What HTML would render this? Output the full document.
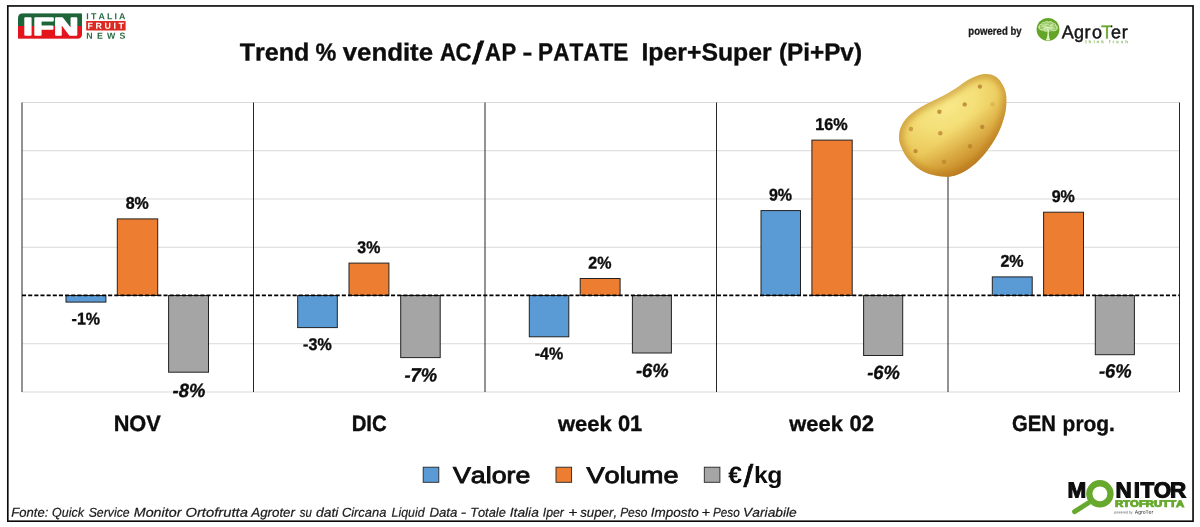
<!DOCTYPE html>
<html lang="it"><head><meta charset="utf-8"><title>Trend % vendite AC/AP - PATATE</title>
<style>html,body{margin:0;padding:0;background:#fff}svg{display:block;will-change:transform}</style></head>
<body>
<svg width="1200" height="527" viewBox="0 0 1200 527" font-family='"Liberation Sans", sans-serif' style="font-kerning:none">
<defs>
<radialGradient id="pg" gradientUnits="userSpaceOnUse" cx="0" cy="0" r="70" fx="0" fy="-6" gradientTransform="translate(950 110) rotate(-32) scale(1.45 0.85)"><stop offset="0" stop-color="#f8e98a"/><stop offset="0.3" stop-color="#f4df78"/><stop offset="0.6" stop-color="#ebc95c"/><stop offset="0.85" stop-color="#dfb043"/><stop offset="1" stop-color="#d39c36"/></radialGradient>
<linearGradient id="pg2" gradientUnits="userSpaceOnUse" x1="925" y1="85" x2="990" y2="170"><stop offset="0" stop-color="#b8741c" stop-opacity="0"/><stop offset="0.5" stop-color="#b8741c" stop-opacity="0"/><stop offset="1" stop-color="#b56c16" stop-opacity="0.68"/></linearGradient>
<filter id="bl" x="-50%" y="-50%" width="200%" height="200%"><feGaussianBlur stdDeviation="0.75"/></filter>
<filter id="bl4" x="-20%" y="-20%" width="140%" height="140%"><feGaussianBlur stdDeviation="3.2"/></filter>
</defs>
<rect width="1200" height="527" fill="#fff"/>
<rect x="7.8" y="5.95" width="1185.25" height="515.25" fill="none" stroke="#0a0a0a" stroke-width="1.65"/>
<line x1="22.0" x2="1179.5" y1="102.50" y2="102.50" stroke="#d9d9d9" stroke-width="1"/>
<line x1="22.0" x2="1179.5" y1="150.75" y2="150.75" stroke="#d9d9d9" stroke-width="1"/>
<line x1="22.0" x2="1179.5" y1="199.00" y2="199.00" stroke="#d9d9d9" stroke-width="1"/>
<line x1="22.0" x2="1179.5" y1="247.25" y2="247.25" stroke="#d9d9d9" stroke-width="1"/>
<line x1="22.0" x2="1179.5" y1="343.75" y2="343.75" stroke="#d9d9d9" stroke-width="1"/>
<line x1="22.0" x2="1179.5" y1="392.00" y2="392.00" stroke="#d9d9d9" stroke-width="1"/>
<line x1="22.0" x2="22.0" y1="102.50" y2="392.00" stroke="#262626" stroke-width="1"/>
<line x1="253.5" x2="253.5" y1="102.50" y2="392.00" stroke="#262626" stroke-width="1"/>
<line x1="485.0" x2="485.0" y1="102.50" y2="392.00" stroke="#262626" stroke-width="1"/>
<line x1="716.5" x2="716.5" y1="102.50" y2="392.00" stroke="#262626" stroke-width="1"/>
<line x1="948.0" x2="948.0" y1="102.50" y2="392.00" stroke="#262626" stroke-width="1"/>
<line x1="1179.5" x2="1179.5" y1="102.50" y2="392.00" stroke="#262626" stroke-width="1"/>
<rect x="66.00" y="295.50" width="39.90" height="6.60" fill="#5b9bd5" stroke="#222" stroke-width="1"/>
<rect x="117.30" y="218.90" width="40.40" height="76.60" fill="#ed7d31" stroke="#222" stroke-width="1"/>
<rect x="168.60" y="295.50" width="39.90" height="76.70" fill="#a5a5a5" stroke="#222" stroke-width="1"/>
<rect x="297.70" y="295.50" width="39.60" height="32.10" fill="#5b9bd5" stroke="#222" stroke-width="1"/>
<rect x="349.00" y="263.10" width="39.90" height="32.40" fill="#ed7d31" stroke="#222" stroke-width="1"/>
<rect x="400.70" y="295.50" width="39.50" height="62.10" fill="#a5a5a5" stroke="#222" stroke-width="1"/>
<rect x="529.30" y="295.50" width="39.50" height="41.30" fill="#5b9bd5" stroke="#222" stroke-width="1"/>
<rect x="580.20" y="278.50" width="39.90" height="17.00" fill="#ed7d31" stroke="#222" stroke-width="1"/>
<rect x="632.40" y="295.50" width="39.00" height="57.50" fill="#a5a5a5" stroke="#222" stroke-width="1"/>
<rect x="761.00" y="210.60" width="39.50" height="84.90" fill="#5b9bd5" stroke="#222" stroke-width="1"/>
<rect x="811.90" y="140.10" width="40.30" height="155.40" fill="#ed7d31" stroke="#222" stroke-width="1"/>
<rect x="863.60" y="295.50" width="39.10" height="60.00" fill="#a5a5a5" stroke="#222" stroke-width="1"/>
<rect x="992.30" y="276.90" width="39.90" height="18.60" fill="#5b9bd5" stroke="#222" stroke-width="1"/>
<rect x="1043.60" y="212.20" width="39.90" height="83.30" fill="#ed7d31" stroke="#222" stroke-width="1"/>
<rect x="1095.30" y="295.50" width="39.10" height="59.20" fill="#a5a5a5" stroke="#222" stroke-width="1"/>
<line x1="22.0" x2="1179.5" y1="295.45" y2="295.45" stroke="#000" stroke-width="1.7" stroke-dasharray="4.1 2.05"/>
<g id="chart-title">
<text transform="matrix(1.0190 0.0006 0 1 239.72 60.38)" font-size="24.6" font-weight="bold" font-style="normal" fill="#0d0d0d" stroke="#0d0d0d" stroke-width="0.35">Trend</text>
<text transform="matrix(0.9509 0.0006 0 1 315.42 60.39)" font-size="24.6" font-weight="bold" font-style="normal" fill="#0d0d0d" stroke="#0d0d0d" stroke-width="0.35">%</text>
<text transform="matrix(1.0495 0.0006 0 1 342.70 60.37)" font-size="24.6" font-weight="bold" font-style="normal" fill="#0d0d0d" stroke="#0d0d0d" stroke-width="0.35">vendite</text>
<text transform="matrix(0.9000 0.0006 0 1.0000 439.97 60.38)" x="0.00 17.20 38.78 50.06 68.48" font-size="24.6" font-weight="bold" font-style="normal" fill="#0d0d0d" stroke="#0d0d0d" stroke-width="0.35">AC/AP</text>
<text transform="matrix(1.2008 0.0006 0 1 522.55 60.40)" font-size="24.6" font-weight="bold" font-style="normal" fill="#0d0d0d" stroke="#0d0d0d" stroke-width="0.35">-</text>
<text transform="matrix(0.9186 0.0006 0 1 538.09 60.37)" font-size="24.6" font-weight="bold" font-style="normal" fill="#0d0d0d" stroke="#0d0d0d" stroke-width="0.35">PATATE</text>
<text transform="matrix(1.0088 0.0006 0 1 641.44 60.36)" font-size="24.6" font-weight="bold" font-style="normal" fill="#0d0d0d" stroke="#0d0d0d" stroke-width="0.35">Iper+Super</text>
<text transform="matrix(0.9886 0.0006 0 1 778.89 60.38)" font-size="24.6" font-weight="bold" font-style="normal" fill="#0d0d0d" stroke="#0d0d0d" stroke-width="0.35">(Pi+Pv)</text>
<text transform="matrix(2.0696 0.0006 0 1.6136 472.20 63.68)" font-size="20" font-weight="normal" font-style="normal" fill="#0d0d0d" stroke="#0d0d0d" stroke-width="0.9" vector-effect="non-scaling-stroke">/</text>
</g>
<text transform="matrix(0.9444 0.0006 0 1 71.57 324.49)" font-size="17.0" font-weight="bold" font-style="normal" fill="#0d0d0d" stroke="#0d0d0d" stroke-width="0.35">-1%</text>
<text transform="matrix(0.9414 0.0006 0 1 125.69 208.79)" font-size="17.0" font-weight="bold" font-style="normal" fill="#0d0d0d" stroke="#0d0d0d" stroke-width="0.35">8%</text>
<text transform="matrix(0.9582 0.0006 0 1 172.60 397.09)" font-size="19.2" font-weight="bold" font-style="italic" fill="#0d0d0d" stroke="#0d0d0d" stroke-width="0.35">-8%</text>
<text transform="matrix(0.9444 0.0006 0 1 303.12 349.99)" font-size="17.0" font-weight="bold" font-style="normal" fill="#0d0d0d" stroke="#0d0d0d" stroke-width="0.35">-3%</text>
<text transform="matrix(0.9354 0.0006 0 1 357.29 252.99)" font-size="17.0" font-weight="bold" font-style="normal" fill="#0d0d0d" stroke="#0d0d0d" stroke-width="0.35">3%</text>
<text transform="matrix(0.9582 0.0006 0 1 404.50 381.39)" font-size="19.2" font-weight="bold" font-style="italic" fill="#0d0d0d" stroke="#0d0d0d" stroke-width="0.35">-7%</text>
<text transform="matrix(0.9444 0.0006 0 1 534.67 359.19)" font-size="17.0" font-weight="bold" font-style="normal" fill="#0d0d0d" stroke="#0d0d0d" stroke-width="0.35">-4%</text>
<text transform="matrix(0.9434 0.0006 0 1 588.29 268.39)" font-size="17.0" font-weight="bold" font-style="normal" fill="#0d0d0d" stroke="#0d0d0d" stroke-width="0.35">2%</text>
<text transform="matrix(0.9582 0.0006 0 1 635.95 376.89)" font-size="19.2" font-weight="bold" font-style="italic" fill="#0d0d0d" stroke="#0d0d0d" stroke-width="0.35">-6%</text>
<text transform="matrix(0.9434 0.0006 0 1 768.89 200.49)" font-size="17.0" font-weight="bold" font-style="normal" fill="#0d0d0d" stroke="#0d0d0d" stroke-width="0.35">9%</text>
<text transform="matrix(0.9537 0.0006 0 1 815.33 129.99)" font-size="17.0" font-weight="bold" font-style="normal" fill="#0d0d0d" stroke="#0d0d0d" stroke-width="0.35">16%</text>
<text transform="matrix(0.9582 0.0006 0 1 867.20 379.09)" font-size="19.2" font-weight="bold" font-style="italic" fill="#0d0d0d" stroke="#0d0d0d" stroke-width="0.35">-6%</text>
<text transform="matrix(0.9434 0.0006 0 1 1000.39 266.79)" font-size="17.0" font-weight="bold" font-style="normal" fill="#0d0d0d" stroke="#0d0d0d" stroke-width="0.35">2%</text>
<text transform="matrix(0.9434 0.0006 0 1 1051.69 202.09)" font-size="17.0" font-weight="bold" font-style="normal" fill="#0d0d0d" stroke="#0d0d0d" stroke-width="0.35">9%</text>
<text transform="matrix(0.9582 0.0006 0 1 1098.90 377.59)" font-size="19.2" font-weight="bold" font-style="italic" fill="#0d0d0d" stroke="#0d0d0d" stroke-width="0.35">-6%</text>
<text transform="matrix(0.9813 0.0006 0 1 113.64 430.89)" font-size="22.2" font-weight="bold" font-style="normal" fill="#0d0d0d" stroke="#0d0d0d" stroke-width="0.35">NOV</text>
<text transform="matrix(0.9186 0.0006 0 1 351.64 430.89)" font-size="22.2" font-weight="bold" font-style="normal" fill="#0d0d0d" stroke="#0d0d0d" stroke-width="0.35">DIC</text>
<text transform="matrix(1.0309 0.0006 0 1 557.96 430.88)" font-size="21.3" font-weight="bold" font-style="normal" fill="#0d0d0d" stroke="#0d0d0d" stroke-width="0.35">week</text>
<text transform="matrix(0.9872 0.0006 0 1 617.93 430.89)" font-size="22.2" font-weight="bold" font-style="normal" fill="#0d0d0d" stroke="#0d0d0d" stroke-width="0.35">01</text>
<text transform="matrix(1.0270 0.0006 0 1 789.36 430.88)" font-size="21.3" font-weight="bold" font-style="normal" fill="#0d0d0d" stroke="#0d0d0d" stroke-width="0.35">week</text>
<text transform="matrix(0.9945 0.0006 0 1 849.53 430.89)" font-size="22.2" font-weight="bold" font-style="normal" fill="#0d0d0d" stroke="#0d0d0d" stroke-width="0.35">02</text>
<text transform="matrix(0.9125 0.0006 0 1 1011.97 430.89)" font-size="22.2" font-weight="bold" font-style="normal" fill="#0d0d0d" stroke="#0d0d0d" stroke-width="0.35">GEN</text>
<text transform="matrix(0.9827 0.0006 0 1 1062.62 430.88)" font-size="21.3" font-weight="bold" font-style="normal" fill="#0d0d0d" stroke="#0d0d0d" stroke-width="0.35">prog.</text>
<rect x="423.2" y="467.2" width="15.6" height="15.1" fill="#5b9bd5" stroke="#262626" stroke-width="0.9"/>
<rect x="556.0" y="467.2" width="15.6" height="15.1" fill="#ed7d31" stroke="#262626" stroke-width="0.9"/>
<rect x="704.3" y="467.2" width="15.6" height="15.1" fill="#a5a5a5" stroke="#262626" stroke-width="0.9"/>
<text transform="matrix(1.1730 0.0006 0 1 453.03 482.98)" font-size="22.8" font-weight="normal" font-style="normal" fill="#0d0d0d" stroke="#111" stroke-width="0.9">Valore</text>
<text transform="matrix(1.1930 0.0006 0 1 586.43 482.98)" font-size="22.8" font-weight="normal" font-style="normal" fill="#0d0d0d" stroke="#111" stroke-width="0.9">Volume</text>
<text transform="matrix(1.0500 0.0006 0 1.0000 728.37 482.99)" x="0.00 15.75 24.44 37.08" font-size="23.6" font-weight="bold" font-style="normal" fill="#0d0d0d" >€/kg</text>
<text transform="matrix(1.7457 0.0006 0 1.5932 743.50 486.79)" font-size="20" font-weight="normal" font-style="normal" fill="#0d0d0d" stroke="#0d0d0d" stroke-width="0.7" vector-effect="non-scaling-stroke">/</text>
<text transform="matrix(1.0124 0.0006 0 1 11.30 516.69)" font-size="12.9" font-weight="normal" font-style="italic" fill="#1a1a1a" stroke="#1a1a1a" stroke-width="0.22">Fonte:</text>
<text transform="matrix(0.9702 0.0006 0 1 52.08 516.69)" font-size="12.9" font-weight="normal" font-style="italic" fill="#1a1a1a" stroke="#1a1a1a" stroke-width="0.22">Quick</text>
<text transform="matrix(0.9533 0.0006 0 1 88.65 516.69)" font-size="12.9" font-weight="normal" font-style="italic" fill="#1a1a1a" stroke="#1a1a1a" stroke-width="0.22">Service</text>
<text transform="matrix(1.1079 0.0006 0 1 133.76 516.69)" font-size="12.9" font-weight="normal" font-style="italic" fill="#1a1a1a" stroke="#1a1a1a" stroke-width="0.22">Monitor</text>
<text transform="matrix(1.1473 0.0006 0 1 185.40 516.68)" font-size="12.9" font-weight="normal" font-style="italic" fill="#1a1a1a" stroke="#1a1a1a" stroke-width="0.22">Ortofrutta</text>
<text transform="matrix(1.0329 0.0006 0 1 251.26 516.69)" font-size="12.9" font-weight="normal" font-style="italic" fill="#1a1a1a" stroke="#1a1a1a" stroke-width="0.22">Agroter</text>
<text transform="matrix(0.8849 0.0006 0 1 299.77 516.70)" font-size="12.9" font-weight="normal" font-style="italic" fill="#1a1a1a" stroke="#1a1a1a" stroke-width="0.22">su</text>
<text transform="matrix(1.0797 0.0006 0 1 315.93 516.69)" font-size="12.9" font-weight="normal" font-style="italic" fill="#1a1a1a" stroke="#1a1a1a" stroke-width="0.22">dati</text>
<text transform="matrix(1.0000 0.0006 0 1 341.89 516.69)" font-size="12.9" font-weight="normal" font-style="italic" fill="#1a1a1a" stroke="#1a1a1a" stroke-width="0.22">Circana</text>
<text transform="matrix(0.9601 0.0006 0 1 391.52 516.69)" font-size="12.9" font-weight="normal" font-style="italic" fill="#1a1a1a" stroke="#1a1a1a" stroke-width="0.22">Liquid</text>
<text transform="matrix(1.0261 0.0006 0 1 429.39 516.69)" font-size="12.9" font-weight="normal" font-style="italic" fill="#1a1a1a" stroke="#1a1a1a" stroke-width="0.22">Data</text>
<text transform="matrix(1.2557 0.0006 0 1 460.77 516.70)" font-size="12.9" font-weight="normal" font-style="italic" fill="#1a1a1a" stroke="#1a1a1a" stroke-width="0.22">-</text>
<text transform="matrix(0.9966 0.0006 0 1 470.14 516.69)" font-size="12.9" font-weight="normal" font-style="italic" fill="#1a1a1a" stroke="#1a1a1a" stroke-width="0.22">Totale</text>
<text transform="matrix(1.0685 0.0006 0 1 509.75 516.69)" font-size="12.9" font-weight="normal" font-style="italic" fill="#1a1a1a" stroke="#1a1a1a" stroke-width="0.22">Italia</text>
<text transform="matrix(0.9525 0.0006 0 1 542.81 516.69)" font-size="12.9" font-weight="normal" font-style="italic" fill="#1a1a1a" stroke="#1a1a1a" stroke-width="0.22">Iper</text>
<text transform="matrix(1.2126 0.0006 0 1 568.31 516.70)" font-size="12.9" font-weight="normal" font-style="italic" fill="#1a1a1a" stroke="#1a1a1a" stroke-width="0.22">+</text>
<text transform="matrix(1.0314 0.0006 0 1 580.17 516.69)" font-size="12.9" font-weight="normal" font-style="italic" fill="#1a1a1a" stroke="#1a1a1a" stroke-width="0.22">super,</text>
<text transform="matrix(0.9267 0.0006 0 1 620.13 516.69)" font-size="12.9" font-weight="normal" font-style="italic" fill="#1a1a1a" stroke="#1a1a1a" stroke-width="0.22">Peso</text>
<text transform="matrix(1.0474 0.0006 0 1 650.87 516.69)" font-size="12.9" font-weight="normal" font-style="italic" fill="#1a1a1a" stroke="#1a1a1a" stroke-width="0.22">Imposto</text>
<text transform="matrix(1.1329 0.0006 0 1 701.57 516.70)" font-size="12.9" font-weight="normal" font-style="italic" fill="#1a1a1a" stroke="#1a1a1a" stroke-width="0.22">+</text>
<text transform="matrix(0.9092 0.0006 0 1 713.04 516.69)" font-size="12.9" font-weight="normal" font-style="italic" fill="#1a1a1a" stroke="#1a1a1a" stroke-width="0.22">Peso</text>
<text transform="matrix(1.0699 0.0006 0 1 743.11 516.69)" font-size="12.9" font-weight="normal" font-style="italic" fill="#1a1a1a" stroke="#1a1a1a" stroke-width="0.22">Variabile</text>
<clipPath id="pc"><path d="M984.5,74.1 C989.0,73.8 993.6,74.9 997.0,77.5 C1000.4,80.2 1003.4,85.7 1005.0,90.0 C1006.5,94.4 1006.5,99.0 1006.3,103.7 C1006.2,108.5 1005.4,113.2 1003.8,118.5 C1002.3,123.8 1000.0,129.9 997.0,135.6 C994.0,141.3 989.8,147.5 985.6,152.7 C981.5,157.8 976.7,162.6 972.0,166.3 C967.2,170.0 962.1,173.0 957.2,174.7 C952.2,176.5 947.9,177.0 942.4,176.6 C936.9,176.1 929.7,174.7 924.2,172.0 C918.7,169.4 913.3,165.0 909.4,160.6 C905.4,156.3 902.4,150.2 900.7,145.8 C899.0,141.5 898.8,138.1 899.1,134.4 C899.4,130.8 900.5,127.2 902.5,123.7 C904.5,120.3 907.3,117.0 910.9,114.0 C914.6,110.9 919.3,108.1 924.2,105.3 C929.0,102.5 934.8,100.2 940.1,97.3 C945.4,94.5 951.1,91.3 956.0,88.2 C961.0,85.2 964.9,81.5 969.7,79.1 C974.4,76.8 979.9,74.4 984.5,74.1Z"/></clipPath>
<path d="M984.5,74.1 C989.0,73.8 993.6,74.9 997.0,77.5 C1000.4,80.2 1003.4,85.7 1005.0,90.0 C1006.5,94.4 1006.5,99.0 1006.3,103.7 C1006.2,108.5 1005.4,113.2 1003.8,118.5 C1002.3,123.8 1000.0,129.9 997.0,135.6 C994.0,141.3 989.8,147.5 985.6,152.7 C981.5,157.8 976.7,162.6 972.0,166.3 C967.2,170.0 962.1,173.0 957.2,174.7 C952.2,176.5 947.9,177.0 942.4,176.6 C936.9,176.1 929.7,174.7 924.2,172.0 C918.7,169.4 913.3,165.0 909.4,160.6 C905.4,156.3 902.4,150.2 900.7,145.8 C899.0,141.5 898.8,138.1 899.1,134.4 C899.4,130.8 900.5,127.2 902.5,123.7 C904.5,120.3 907.3,117.0 910.9,114.0 C914.6,110.9 919.3,108.1 924.2,105.3 C929.0,102.5 934.8,100.2 940.1,97.3 C945.4,94.5 951.1,91.3 956.0,88.2 C961.0,85.2 964.9,81.5 969.7,79.1 C974.4,76.8 979.9,74.4 984.5,74.1Z" fill="url(#pg)"/>
<path d="M984.5,74.1 C989.0,73.8 993.6,74.9 997.0,77.5 C1000.4,80.2 1003.4,85.7 1005.0,90.0 C1006.5,94.4 1006.5,99.0 1006.3,103.7 C1006.2,108.5 1005.4,113.2 1003.8,118.5 C1002.3,123.8 1000.0,129.9 997.0,135.6 C994.0,141.3 989.8,147.5 985.6,152.7 C981.5,157.8 976.7,162.6 972.0,166.3 C967.2,170.0 962.1,173.0 957.2,174.7 C952.2,176.5 947.9,177.0 942.4,176.6 C936.9,176.1 929.7,174.7 924.2,172.0 C918.7,169.4 913.3,165.0 909.4,160.6 C905.4,156.3 902.4,150.2 900.7,145.8 C899.0,141.5 898.8,138.1 899.1,134.4 C899.4,130.8 900.5,127.2 902.5,123.7 C904.5,120.3 907.3,117.0 910.9,114.0 C914.6,110.9 919.3,108.1 924.2,105.3 C929.0,102.5 934.8,100.2 940.1,97.3 C945.4,94.5 951.1,91.3 956.0,88.2 C961.0,85.2 964.9,81.5 969.7,79.1 C974.4,76.8 979.9,74.4 984.5,74.1Z" fill="url(#pg2)"/>
<g clip-path="url(#pc)"><path d="M984.5,74.1 C989.0,73.8 993.6,74.9 997.0,77.5 C1000.4,80.2 1003.4,85.7 1005.0,90.0 C1006.5,94.4 1006.5,99.0 1006.3,103.7 C1006.2,108.5 1005.4,113.2 1003.8,118.5 C1002.3,123.8 1000.0,129.9 997.0,135.6 C994.0,141.3 989.8,147.5 985.6,152.7 C981.5,157.8 976.7,162.6 972.0,166.3 C967.2,170.0 962.1,173.0 957.2,174.7 C952.2,176.5 947.9,177.0 942.4,176.6 C936.9,176.1 929.7,174.7 924.2,172.0 C918.7,169.4 913.3,165.0 909.4,160.6 C905.4,156.3 902.4,150.2 900.7,145.8 C899.0,141.5 898.8,138.1 899.1,134.4 C899.4,130.8 900.5,127.2 902.5,123.7 C904.5,120.3 907.3,117.0 910.9,114.0 C914.6,110.9 919.3,108.1 924.2,105.3 C929.0,102.5 934.8,100.2 940.1,97.3 C945.4,94.5 951.1,91.3 956.0,88.2 C961.0,85.2 964.9,81.5 969.7,79.1 C974.4,76.8 979.9,74.4 984.5,74.1Z" fill="none" stroke="#b26f1a" stroke-width="8" stroke-opacity="0.5" filter="url(#bl4)"/></g>
<circle cx="979.9" cy="86.6" r="2.2" fill="#b27a2a" fill-opacity="0.75" filter="url(#bl)"/>
<circle cx="964.7" cy="104.4" r="2.2" fill="#b27a2a" fill-opacity="0.75" filter="url(#bl)"/>
<circle cx="992.5" cy="104.2" r="2.2" fill="#b27a2a" fill-opacity="0.26" filter="url(#bl)"/>
<circle cx="939.4" cy="111.7" r="2.2" fill="#b27a2a" fill-opacity="0.75" filter="url(#bl)"/>
<circle cx="982.2" cy="126.9" r="2.2" fill="#b27a2a" fill-opacity="0.75" filter="url(#bl)"/>
<circle cx="910.9" cy="129.0" r="2.2" fill="#b27a2a" fill-opacity="0.60" filter="url(#bl)"/>
<circle cx="940.3" cy="133.3" r="2.2" fill="#b27a2a" fill-opacity="0.68" filter="url(#bl)"/>
<circle cx="970.1" cy="146.3" r="2.2" fill="#b27a2a" fill-opacity="0.68" filter="url(#bl)"/>
<circle cx="915.5" cy="151.1" r="2.2" fill="#b27a2a" fill-opacity="0.75" filter="url(#bl)"/>
<circle cx="944.0" cy="161.8" r="2.2" fill="#b27a2a" fill-opacity="0.60" filter="url(#bl)"/>
<clipPath id="ifnc"><path d="M23,13.3 H81.2 Q82.1,13.3 82.1,14.2 V33.8 Q82.1,38.8 77.1,38.8 H18.9 Q18,38.8 18,37.9 V18.3 Q18,13.3 23,13.3Z"/></clipPath>
<g clip-path="url(#ifnc)"><rect x="17.9" y="13.2" width="64.3" height="12.8" fill="#1d6538"/><rect x="17.9" y="26.0" width="64.3" height="12.9" fill="#e4141c"/></g>
<text transform="matrix(1.6869 0.0006 0 1.1919 23.21 34.79)" x="-0.00 6.01 18.28" font-size="20" font-weight="bold" font-style="normal" fill="#fff" stroke="#fff" stroke-width="2.0" vector-effect="non-scaling-stroke" stroke-linejoin="round">IFN</text>
<text transform="matrix(1 0.0006 0 1 86.31 19.29)" font-size="8.8" font-weight="bold" font-style="normal" fill="#2a6b45" letter-spacing="2.134" >ITALIA</text>
<rect x="86.2" y="21.0" width="39.4" height="9.5" fill="#dc2a22"/>
<text transform="matrix(1 0.0006 0 1 87.61 28.79)" font-size="8.8" font-weight="bold" font-style="normal" fill="#fff" letter-spacing="2.594" >FRUIT</text>
<text transform="matrix(1 0.0006 0 1 86.31 38.69)" font-size="8.8" font-weight="bold" font-style="normal" fill="#2a6b45" letter-spacing="4.244" >NEWS</text>
<text transform="matrix(0.8486 0.0006 0 1 968.37 34.78)" font-size="11.3" font-weight="bold" font-style="normal" fill="#1a1a1a" stroke="#1a1a1a" stroke-width="0.3">powered by</text>
<circle cx="1048.0" cy="29.4" r="11.4" fill="#64a528"/>
<g fill="#d9f2b6" fill-opacity="0.42"><ellipse cx="1042.9" cy="27.2" rx="4.6" ry="3.4"/><ellipse cx="1047.8" cy="24.8" rx="5.8" ry="3.5"/><ellipse cx="1053.5" cy="27.4" rx="4.4" ry="3.5"/><ellipse cx="1048.0" cy="29.3" rx="5.0" ry="2.7"/></g>
<g fill="none" stroke="#e2f6c8" stroke-width="0.85" stroke-linecap="round" stroke-linejoin="round"><path d="M1039.2,27.6 C1038.6,25.6 1040,24.4 1041.4,24.6 C1041.2,22.8 1043.2,21.8 1044.6,22.8 C1045.4,21.2 1047.8,21 1048.6,22.4 C1050,21 1052.4,21.6 1052.6,23.2 C1054.4,22.6 1056,24 1055.4,25.6 C1057.2,26 1057.8,28.2 1056.4,29.4 C1055.6,31 1053.6,31.2 1052.4,30.4 M1039.2,27.6 C1039.6,29.6 1041.6,30.4 1043,29.8 C1043.8,31 1045.4,31.4 1046.6,30.8"/><path d="M1041.6,26.8 C1042.6,25.6 1044.2,25.8 1044.8,27 M1045.6,24.6 C1046.6,23.6 1048.2,23.8 1048.8,25 M1050,25.4 C1051,24.4 1052.6,24.6 1053.2,25.8 M1051.4,28.4 C1052.4,27.4 1054,27.6 1054.6,28.8 M1046.2,27.8 C1047.2,26.8 1048.8,27 1049.6,28.2 M1043.4,28.8 C1044.2,28.2 1045.2,28.4 1045.8,29.2"/><path d="M1047.9,30.2 C1047.5,28.6 1046.4,27.6 1045.6,27 M1048.4,30.2 C1049,28.8 1050.2,28 1051.2,27.4 M1048.1,30 V27.4"/></g>
<path d="M1047.5,30 C1047.7,34 1047.5,37.6 1045.8,40.3 L1050.2,40.3 C1048.9,37.6 1048.7,34 1048.9,30Z" fill="#dff5c4"/>
<linearGradient id="agt" gradientUnits="userSpaceOnUse" x1="45.17" y1="0" x2="55.34" y2="0"><stop offset="0" stop-color="#161616"/><stop offset="0.001" stop-color="#6aa52f"/><stop offset="0.999" stop-color="#6aa52f"/><stop offset="1" stop-color="#161616"/></linearGradient>
<text transform="matrix(0.9000 0.0006 0 0.9157 1061.65 38.33)" x="0.00 13.78 25.45 33.72 44.29 54.91 66.79" font-size="20" font-weight="normal" font-style="normal" fill="url(#agt)" stroke="url(#agt)" stroke-width="0.45" vector-effect="non-scaling-stroke">AgroTer</text>
<text transform="matrix(1 0.0006 0 1 1085.14 43.29)" font-size="4.6" font-weight="bold" font-style="normal" fill="#8aba5c" letter-spacing="1.953" >think fresh</text>
<g><title>Monitor Ortofrutta</title>
<text transform="matrix(1.1234 0.0006 0 1.0901 1067.49 497.52)" x="-0.00 21.08 42.68 59.00 65.02 76.89 91.31" font-size="20" font-weight="bold" font-style="normal" fill="#0d0d0d" stroke="#0d0d0d" stroke-width="1.1" vector-effect="non-scaling-stroke" stroke-linejoin="miter">MONITOR</text>
<text transform="matrix(0.5684 0.0006 0 0.4651 1095.48 506.79)" x="0.00 34.23" font-size="20" font-weight="bold" font-style="normal" fill="#66a92d" stroke="#66a92d" stroke-width="1.0" vector-effect="non-scaling-stroke" stroke-linejoin="miter">ORTOFRUTTA</text>
<circle cx="1099.9" cy="493.85" r="13.6" fill="#fff"/>
<circle cx="1099.9" cy="493.85" r="10.6" fill="none" stroke="#66a92d" stroke-width="6.3"/>
<line x1="1088.2" y1="503.0" x2="1074.6" y2="511.6" stroke="#66a92d" stroke-width="5" stroke-linecap="round"/>
<text transform="matrix(0.9797 0.0006 0 1 1114.37 513.59)" font-size="3.6" font-weight="normal" font-style="normal" fill="#555" >powered by</text>
<text transform="matrix(0.9793 0.0006 0 1 1134.79 513.79)" font-size="5.2" font-weight="normal" font-style="normal" fill="#222" >AgroTer</text>
</g>
</svg>
</body></html>
